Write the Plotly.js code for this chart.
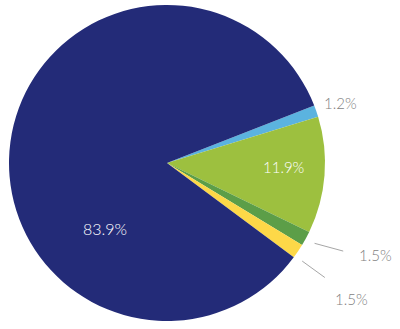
<!DOCTYPE html>
<html><head><meta charset="utf-8">
<script src="https://cdn.plot.ly/plotly-3.0.1.min.js"></script>
<style>html,body{margin:0;padding:0;background:#fff}#chart{width:400px;height:329px}</style>
</head><body><div id="chart"></div>
<script>
// Data
const categories = ['A', 'B', 'C', 'D', 'E'];
const shares = [1.2, 11.9, 1.5, 1.5, 83.9];
const sliceColors = ['#5BB3DF', '#9DC03F', '#5C9E48', '#FDD848', '#232B78'];

// Geometry (pixels)
const W = 400, H = 329, CX = 167, CY = 163, R = 158, START_DEG = 21.3;
const total = shares.reduce((a, b) => a + b, 0);
const px = x => x / W, py = y => 1 - y / H;
const polar = (deg, r) => [CX + r * Math.cos(deg * Math.PI / 180), CY - r * Math.sin(deg * Math.PI / 180)];
let cum = 0;
const mids = shares.map(v => { const m = START_DEG - 360 * (cum + v / 2) / total; cum += v; return m; });
const fmt = v => v.toFixed(1) + '%';

const trace = {
  type: 'pie', labels: categories, values: shares, sort: false, direction: 'clockwise',
  rotation: 90 - START_DEG,
  marker: {colors: sliceColors, line: {width: 0}},
  textinfo: 'none', hoverinfo: 'none',
  domain: {x: [px(CX - R), px(CX + R)], y: [py(CY + R), py(CY - R)]},
  showlegend: false
};

const grey = '#7f7f7f';
const annotations = [];
const shapes = [];
function addText(pt, txt, color, size, xanchor) {
  annotations.push({xref: 'paper', yref: 'paper', x: px(pt[0]), y: py(pt[1]), text: txt, showarrow: false,
    xanchor: xanchor || 'center', yanchor: 'middle', font: {family: 'Lato, "Open Sans", sans-serif', size: size, color: color, weight: 300}});
}
// 1.2% outside, no leader
addText(polar(mids[0], R + 26), fmt(shares[0]), grey, 15);
// 11.9% inside
addText(polar(mids[1] + 2.5, R * 0.74), fmt(shares[1]), '#ffffff', 15);
// 83.9% inside
const bigPt = [CX - 62, CY + 65];
addText(bigPt, fmt(shares[4]), '#ffffff', 16);
// 1.5% with leader lines
[[2, 0, 2, 10, 39, [14, 4]], [3, -2, -2, 9, 37, [8, 21]]].forEach(([i, a0, a1, r0, r1, off]) => {
  const s = polar(mids[i] + a0, R + r0), e = polar(mids[i] + a1, R + r1);
  shapes.push({type: 'line', xref: 'paper', yref: 'paper', x0: px(s[0]), y0: py(s[1]), x1: px(e[0]), y1: py(e[1]),
    line: {color: '#a6a6a6', width: 1}});
  addText([e[0] + off[0], e[1] + off[1]], fmt(shares[i]), grey, 15, 'left');
});

Plotly.newPlot('chart', [trace], {
  width: W, height: H, margin: {l: 0, r: 0, t: 0, b: 0},
  paper_bgcolor: '#ffffff', plot_bgcolor: '#ffffff',
  annotations: annotations, shapes: shapes
}, {displayModeBar: false, staticPlot: true});
</script></body></html>
